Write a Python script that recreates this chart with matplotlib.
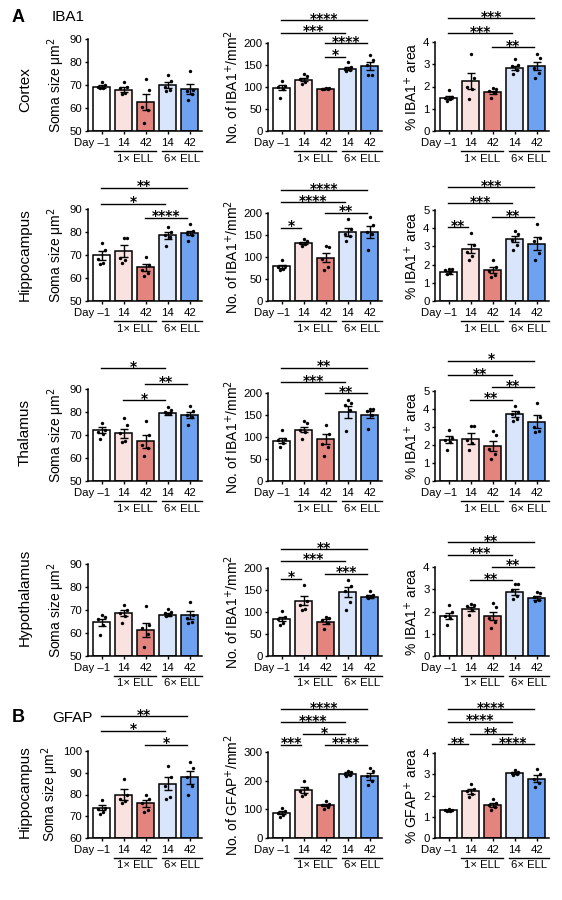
import matplotlib
matplotlib.use('Agg')
import matplotlib.pyplot as plt
from matplotlib import transforms
from matplotlib.lines import Line2D

plt.rcParams['font.family'] = ['Liberation Sans', 'DejaVu Sans']

group_labels = ['Day –1', '14', '42', '14', '42']
cohort_labels = ['1× ELL', '6× ELL']
bar_colors = ['#ffffff', '#f9e2e0', '#e3847f', '#d8e5fa', '#6ea2f0']

# --- IBA1, cortex ---
ctx_soma_mean = [69.3, 68.0, 62.6, 70.0, 68.2]
ctx_soma_sem = [0.6, 1.0, 3.6, 1.3, 2.2]
ctx_soma_pts = [[71.5, 70.0, 69.2, 68.8, 68.5], [71.5, 69.0, 68.5, 66.5, 66.0],
                [72.8, 68.0, 60.5, 59.0, 53.3], [74.3, 71.7, 69.0, 67.7, 67.5],
                [76.2, 67.7, 67.5, 66.0, 63.4]]
ctx_soma_sig = []

ctx_count_mean = [98, 117, 96, 142, 148]
ctx_count_sem = [5.5, 4, 1, 4, 9]
ctx_count_pts = [[113.6, 103, 100, 96, 76], [130, 124, 118, 111, 106],
                 [98, 97, 96, 95.5, 95], [157, 145, 142, 139, 135.6],
                 [173.5, 160.6, 149, 128, 127]]
ctx_count_sig = [(0, 4, '****', 252), (0, 3, '***', 223), (2, 4, '****', 199), (2, 3, '*', 169)]

ctx_area_mean = [1.5, 2.25, 1.74, 2.83, 2.92]
ctx_area_sem = [0.08, 0.36, 0.08, 0.11, 0.2]
ctx_area_pts = [[1.85, 1.55, 1.5, 1.42, 1.35], [3.44, 2.36, 1.97, 1.88, 1.44],
                [1.92, 1.88, 1.8, 1.72, 1.48], [3.23, 2.98, 2.9, 2.75, 2.57],
                [3.46, 3.28, 2.85, 2.6, 2.4]]
ctx_area_sig = [(0, 4, '***', 5.07), (0, 3, '***', 4.39), (2, 4, '**', 3.76)]

# --- IBA1, hippocampus ---
hip_soma_mean = [69.8, 71.8, 64.6, 78.5, 79.6]
hip_soma_sem = [1.8, 2.5, 1.5, 1.5, 1.0]
hip_soma_pts = [[75.2, 72.0, 68.2, 66.5, 66.1], [77.3, 77.3, 68.6, 67.9, 66.4],
                [69.3, 65.7, 63.5, 62.0, 60.9], [82.1, 79.8, 78.8, 78.0, 74.0],
                [83.5, 80.5, 79.5, 78.8, 76.2]]
hip_soma_sig = [(0, 4, '**', 99.2), (0, 3, '*', 92.2), (2, 4, '****', 86.1)]

hip_count_mean = [79, 132, 98, 157, 157]
hip_count_sem = [3.5, 3, 10, 9, 13]
hip_count_pts = [[92.4, 78.8, 77.3, 73.5, 71.2], [141.7, 136, 131.8, 128.8, 124],
                 [124, 122.7, 96, 77.3, 69.7], [187, 164, 153, 147.7, 136],
                 [190.9, 172, 156.8, 153, 115]]
hip_count_sig = [(0, 4, '****', 251.6), (0, 3, '****', 225), (2, 4, '**', 200), (0, 1, '*', 167)]

hip_area_mean = [1.58, 2.87, 1.7, 3.4, 3.15]
hip_area_sem = [0.07, 0.25, 0.17, 0.18, 0.35]
hip_area_pts = [[1.78, 1.75, 1.68, 1.55, 1.47], [3.73, 3.09, 2.7, 2.5, 2.24],
                [2.24, 1.88, 1.65, 1.42, 1.32], [3.86, 3.68, 3.35, 3.09, 2.8],
                [4.23, 3.44, 3.3, 2.65, 2.24]]
hip_area_sig = [(0, 4, '***', 6.25), (0, 3, '***', 5.37), (2, 4, '**', 4.6), (0, 1, '**', 4.05)]

# --- IBA1, thalamus ---
tha_soma_mean = [72.2, 70.8, 67.2, 79.5, 78.8]
tha_soma_sem = [1.2, 2.0, 2.8, 0.6, 1.3]
tha_soma_pts = [[75.4, 72.2, 71.5, 70.4, 68.1], [77.2, 74.3, 70.7, 67.5, 67.1],
                [76.2, 70.0, 65.7, 64.2, 60.9], [82.0, 80.9, 80.1, 79.7, 79.4],
                [82.6, 80.6, 78.7, 78.0, 74.3]]
tha_soma_sig = [(0, 3, '*', 99), (2, 4, '**', 92.2), (1, 3, '*', 85.2)]

tha_count_mean = [92, 117, 95, 157, 151]
tha_count_sem = [6, 6, 12, 13, 8]
tha_count_pts = [[115, 96, 94, 86.4, 77.3], [136, 131.8, 115, 111, 96],
                 [126.5, 107.6, 84.8, 77.3, 56], [184.8, 178, 172, 160.6, 113.6],
                 [164.4, 163, 159, 149, 119]]
tha_count_sig = [(0, 4, '**', 257), (0, 3, '***', 225), (2, 4, '**', 200)]

tha_area_mean = [2.3, 2.36, 1.95, 3.72, 3.3]
tha_area_sem = [0.2, 0.3, 0.3, 0.15, 0.35]
tha_area_pts = [[2.81, 2.4, 2.3, 2.17, 1.7], [3.04, 3.04, 2.26, 2.11, 1.7],
                [2.78, 2.54, 1.8, 1.52, 1.24], [4.15, 3.83, 3.7, 3.46, 3.33],
                [4.33, 3.56, 3.0, 2.78, 2.72]]
tha_area_sig = [(0, 4, '*', 6.67), (0, 3, '**', 5.87), (2, 4, '**', 5.22), (1, 3, '**', 4.52)]

# --- IBA1, hypothalamus ---
hyp_soma_mean = [64.6, 68.8, 61.3, 67.9, 67.7]
hyp_soma_sem = [1.5, 1.3, 3.2, 0.6, 1.7]
hyp_soma_pts = [[67.8, 66.8, 65.9, 63.5, 59.1], [72.2, 70.0, 68.6, 67.4, 64.2],
                [71.7, 63.5, 62.0, 59.6, 53.8], [70.3, 69.3, 68.6, 67.8, 67.4],
                [73.6, 67.8, 66.4, 64.9, 64.5]]
hyp_soma_sig = []

hyp_count_mean = [84, 126, 78, 145, 135]
hyp_count_sem = [5, 10, 5, 12, 3]
hyp_count_pts = [[102.7, 88.2, 83.7, 76, 70.7], [162, 124, 116, 106.5, 105],
                 [88.2, 86, 82, 74.5, 60.8], [173.4, 158, 146.8, 121.7, 105],
                 [146.8, 139, 135.4, 133, 131.6]]
hyp_count_sig = [(0, 4, '**', 243), (0, 3, '***', 217), (2, 4, '***', 187), (0, 1, '*', 175)]

hyp_area_mean = [1.8, 2.12, 1.8, 2.88, 2.61]
hyp_area_sem = [0.15, 0.1, 0.2, 0.14, 0.08]
hyp_area_pts = [[2.28, 1.99, 1.79, 1.69, 1.39], [2.33, 2.28, 2.24, 2.06, 1.84],
                [2.36, 2.21, 1.73, 1.54, 1.28], [3.25, 3.22, 2.96, 2.69, 2.58],
                [2.88, 2.85, 2.66, 2.51, 2.46]]
hyp_area_sig = [(0, 4, '**', 5.12), (0, 3, '***', 4.55), (2, 4, '**', 4.0), (1, 3, '**', 3.4)]

# --- GFAP, hippocampus ---
gfap_soma_mean = [74, 80, 76, 85, 88]
gfap_soma_sem = [1.3, 2.3, 1.6, 3, 3]
gfap_soma_pts = [[77.5, 74, 73.5, 72, 71], [87, 80, 78, 77, 76],
                 [80, 78, 76, 73, 72], [93, 88, 84, 79, 78],
                 [95, 92, 88, 84, 80]]
gfap_soma_sig = [(0, 4, '**', 116), (0, 3, '*', 109.2), (2, 4, '*', 102.8)]

gfap_count_mean = [88, 168, 115, 225, 215]
gfap_count_sem = [6, 10, 5, 4, 12]
gfap_count_pts = [[105, 95, 88, 80, 72], [200, 175, 165, 155, 145],
                  [130, 120, 115, 108, 102], [235, 230, 225, 220, 215],
                  [245, 235, 215, 200, 185]]
gfap_count_sig = [(0, 4, '****', 449), (0, 3, '****', 404), (1, 3, '*', 362),
                  (0, 1, '***', 325), (2, 4, '****', 325)]

gfap_area_mean = [1.3, 2.2, 1.55, 3.05, 2.8]
gfap_area_sem = [0.03, 0.12, 0.1, 0.05, 0.17]
gfap_area_pts = [[1.35, 1.32, 1.3, 1.28, 1.25], [2.55, 2.3, 2.2, 2.05, 1.95],
                 [1.85, 1.65, 1.55, 1.45, 1.3], [3.2, 3.1, 3.05, 3.0, 2.95],
                 [3.25, 3.0, 2.8, 2.6, 2.4]]
gfap_area_sig = [(0, 4, '****', 6.07), (0, 3, '****', 5.46), (1, 3, '**', 4.89),
                 (0, 1, '**', 4.42), (2, 4, '****', 4.42)]

soma_lbl = 'Soma size μm$^2$'
iba_cnt_lbl = 'No. of IBA1$^{+}$/mm$^2$'
iba_area_lbl = '% IBA1$^{+}$ area'
gfap_cnt_lbl = 'No. of GFAP$^{+}$/mm$^2$'
gfap_area_lbl = '% GFAP$^{+}$ area'

# rows: (row label, label y px, [(mean, sem, pts, sig, ylabel, ylim, step, top_px, bottom_px)] )
rows = [
    ('Cortex', 90, [
        (ctx_soma_mean, ctx_soma_sem, ctx_soma_pts, ctx_soma_sig, soma_lbl, (50, 90), 10, 39, 131),
        (ctx_count_mean, ctx_count_sem, ctx_count_pts, ctx_count_sig, iba_cnt_lbl, (0, 200), 50, 43, 131),
        (ctx_area_mean, ctx_area_sem, ctx_area_pts, ctx_area_sig, iba_area_lbl, (0, 4), 1, 42, 131)]),
    ('Hippocampus', 255, [
        (hip_soma_mean, hip_soma_sem, hip_soma_pts, hip_soma_sig, soma_lbl, (50, 90), 10, 209, 301),
        (hip_count_mean, hip_count_sem, hip_count_pts, hip_count_sig, iba_cnt_lbl, (0, 200), 50, 213, 301),
        (hip_area_mean, hip_area_sem, hip_area_pts, hip_area_sig, iba_area_lbl, (0, 5), 1, 210, 301)]),
    ('Thalamus', 433, [
        (tha_soma_mean, tha_soma_sem, tha_soma_pts, tha_soma_sig, soma_lbl, (50, 90), 10, 389, 481),
        (tha_count_mean, tha_count_sem, tha_count_pts, tha_count_sig, iba_cnt_lbl, (0, 200), 50, 393, 481),
        (tha_area_mean, tha_area_sem, tha_area_pts, tha_area_sig, iba_area_lbl, (0, 5), 1, 391, 481)]),
    ('Hypothalamus', 597, [
        (hyp_soma_mean, hyp_soma_sem, hyp_soma_pts, hyp_soma_sig, soma_lbl, (50, 90), 10, 564, 656),
        (hyp_count_mean, hyp_count_sem, hyp_count_pts, hyp_count_sig, iba_cnt_lbl, (0, 200), 50, 568, 656),
        (hyp_area_mean, hyp_area_sem, hyp_area_pts, hyp_area_sig, iba_area_lbl, (0, 4), 1, 567, 656)]),
    ('Hippocampus', 792, [
        (gfap_soma_mean, gfap_soma_sem, gfap_soma_pts, gfap_soma_sig, soma_lbl, (60, 100), 10, 751, 838),
        (gfap_count_mean, gfap_count_sem, gfap_count_pts, gfap_count_sig, gfap_cnt_lbl, (0, 300), 100, 752, 838),
        (gfap_area_mean, gfap_area_sem, gfap_area_pts, gfap_area_sig, gfap_area_lbl, (0, 4), 1, 753, 838)]),
]

W, H = 562, 900
col_x = [88, 268, 435]
ax_w = 114
jitter = [0.0, 0.15, -0.15, 0.08, -0.08]

fig = plt.figure(figsize=(W / 100, H / 100), dpi=100)


def px_shift(ax, dx, dy):
    # data x / axes-fraction y, then shifted by pixels (right, down)
    base = transforms.blended_transform_factory(ax.transData, ax.transAxes)
    return base + transforms.ScaledTranslation(dx / 100, -dy / 100, fig.dpi_scale_trans)


for row_label, label_y, panels in rows:
    fig.text(25 / W, 1 - label_y / H, row_label, rotation=90, ha='center', va='center', fontsize=11)
    for col, (mean, sem, pts, sig, ylabel, ylim, step, top, bottom) in enumerate(panels):
        ax = fig.add_axes([col_x[col] / W, 1 - bottom / H, ax_w / W, (bottom - top) / H])
        x = list(range(len(mean)))
        ax.bar(x, [m - ylim[0] for m in mean], bottom=ylim[0], width=0.78,
               color=bar_colors, edgecolor='black', linewidth=1.1, zorder=2)
        ax.errorbar(x, mean, yerr=sem, fmt='none', ecolor='black', elinewidth=1,
                    capsize=3, capthick=1, zorder=3)
        for i, vals in enumerate(pts):
            order = sorted(range(len(vals)), key=lambda k: -vals[k])
            xs = [0] * len(vals)
            for rank, k in enumerate(order):
                xs[k] = i + jitter[rank]
            ax.scatter(xs, vals, s=6, color='black', zorder=4, linewidths=0)
        for i, j, stars, y in sig:
            ax.plot([i - 0.02, j - 0.12], [y, y], color='black', lw=1, clip_on=False)
            ax.text((i + j - 0.14) / 2, y, stars, ha='center', va='baseline',
                    fontsize=10, fontweight='bold', family='DejaVu Sans', clip_on=False,
                    transform=ax.transData + transforms.ScaledTranslation(0, -2.5 / 100, fig.dpi_scale_trans))
        ax.set_xlim(-0.62, 4.55)
        ax.set_ylim(*ylim)
        ax.set_yticks(range(ylim[0], ylim[1] + 1, step))
        ax.set_xticks(x)
        ax.set_xticklabels([''] + group_labels[1:])
        ax.text(0, 0, group_labels[0], ha='center', va='top', fontsize=8.2,
                transform=px_shift(ax, -10, 7), clip_on=False)
        for s in ['top', 'right']:
            ax.spines[s].set_visible(False)
        for s in ['left', 'bottom']:
            ax.spines[s].set_linewidth(1.1)
        ax.tick_params(length=2.5, width=1, labelsize=8.2, pad=1.5)
        ax.tick_params(axis='x', pad=2.5)
        ax.set_ylabel(ylabel, fontsize=10, labelpad=2)
        for (x0, x1), lbl in zip([(0.55, 2.48), (2.72, 4.55)], cohort_labels):
            ax.add_line(Line2D([x0, x1], [0, 0], color='black', lw=1, clip_on=False,
                               transform=px_shift(ax, 0, 19.5)))
            ax.text((x0 + x1) / 2, 0, lbl, ha='center', va='center', fontsize=8.2,
                    transform=px_shift(ax, 0, 27.5), clip_on=False)

fig.text(12 / W, 1 - 17 / H, 'A', fontsize=13, fontweight='bold', va='center', ha='left')
fig.text(52 / W, 1 - 17 / H, 'IBA1', fontsize=11, va='center', ha='left')
fig.text(12 / W, 1 - 718 / H, 'B', fontsize=13, fontweight='bold', va='center', ha='left')
fig.text(52 / W, 1 - 718 / H, 'GFAP', fontsize=11, va='center', ha='left')

fig.savefig('out.png', dpi=100)
